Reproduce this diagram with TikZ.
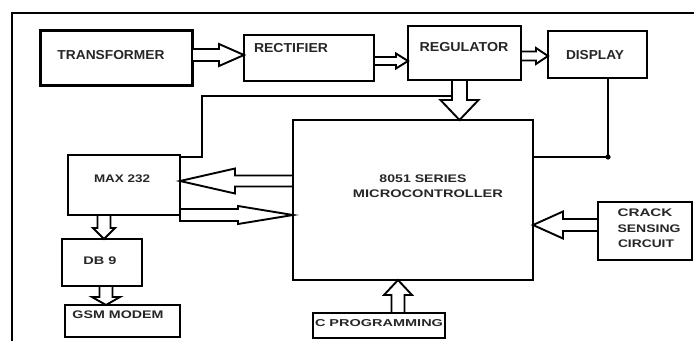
\documentclass[tikz,border=0pt]{standalone}
\usepackage{fontspec}
\setmainfont{Liberation Sans}
\usetikzlibrary{calc}
\tikzset{
  blk/.style={draw, line width=2.8pt, inner sep=0pt, outer sep=0pt},
  txt/.style={inner sep=0pt, text=black!85, font=\bfseries\fontsize{11}{13}\selectfont},
  bigtxt/.style={txt, font=\bfseries\fontsize{13}{15}\selectfont},
  wire/.style={line width=2.5pt},
  harr/.style={line width=1.9pt, line join=miter, fill=white},
  frame/.style={line width=2.8pt},
}
\newcommand\fw[2]{\resizebox{#1pt}{\height}{#2}}
% hollow arrow: start, end, shaft half width, head half width, head length
\newcommand\harrow[5]{%
  \draw[harr] let \p1=(#1), \p2=(#2),
      \n1={atan2(\y2-\y1,\x2-\x1)}, \n2={veclen(\x2-\x1,\y2-\y1)} in
    [shift={(\p1)}, rotate=\n1]
    (0,#3) -- (\n2-#5,#3) -- (\n2-#5,#4) -- (\n2,0) -- (\n2-#5,-#4)
    -- (\n2-#5,-#3) -- (0,-#3) -- cycle;
}
\begin{document}
\begin{tikzpicture}[x=1pt, y=-1pt]
\useasboundingbox (0,0) rectangle (694,341);
\draw[frame] (694,13) -| (12,341);

% blocks
\node[blk, line width=3pt, minimum width=152pt, minimum height=55pt] (transformer) at (116,57.5) {};
\node[blk, minimum width=130pt, minimum height=46pt] (rectifier) at (309,58) {};
\node[blk, minimum width=113pt, minimum height=54pt] (regulator) at (464.5,53) {};
\node[blk, minimum width=99pt, minimum height=47pt] (display) at (597.5,54.5) {};
\node[blk, minimum width=240pt, minimum height=160pt] (micro) at (413,200) {};
\node[blk, minimum width=112pt, minimum height=60pt] (max) at (124,185) {};
\node[blk, minimum width=80pt, minimum height=47pt] (db9) at (102,262.5) {};
\node[blk, minimum width=115pt, minimum height=32pt] (gsm) at (122.5,321) {};
\node[blk, minimum width=132pt, minimum height=25pt] (cprog) at (379,325.5) {};
\node[blk, minimum width=94pt, minimum height=58pt] (crack) at (645,231) {};

% texts
\node[bigtxt] (t-transformer) at (111,55) {\fw{107}{TRANSFORMER}};
\node[bigtxt] (t-rectifier) at (291,48) {\fw{74}{RECTIFIER}};
\node[bigtxt] (t-regulator) at (464,47) {\fw{89}{REGULATOR}};
\node[bigtxt] (t-display) at (595,55) {\fw{58}{DISPLAY}};
\node[txt] (t-micro1) at (423,179) {\fw{87}{8051 SERIES}};
\node[txt] (t-micro2) at (428,194) {\fw{150}{MICROCONTROLLER}};
\node[txt] (t-max) at (122,179) {\fw{56}{MAX 232}};
\node[txt] (t-db9) at (100,261) {\fw{33}{DB 9}};
\node[txt] (t-gsm) at (118,315) {\fw{91}{GSM MODEM}};
\node[txt, font=\bfseries\fontsize{10}{12}\selectfont] (t-cprog) at (379,323) {\fw{128}{C PROGRAMMING}};
\node[txt] (t-crack1) at (645,213) {\fw{55}{CRACK}};
\node[txt] (t-crack2) at (649,229) {\fw{63}{SENSING}};
\node[txt] (t-crack3) at (646,244) {\fw{56}{CIRCUIT}};

% wires
\coordinate (fc) at (202,96);
\coordinate (feed) at (452,96);
\draw[wire] ([yshift=-2pt]max.north east) -| (fc) -- (feed);
\coordinate (dj) at (608,157);
\draw[wire] (display.south -| dj) -- (dj) -- (dj -| micro.east);
\fill (dj) circle (2.6pt);

% hollow arrows
\harrow{transformer.east |- 0,55}{rectifier.west |- 0,55}{6}{11}{25}
\harrow{rectifier.east |- 0,61}{regulator.west |- 0,61}{4}{7.5}{12}
\harrow{regulator.east |- 0,56}{display.west |- 0,56}{4.5}{8}{12}
\harrow{regulator.south -| 459.5,0}{micro.north -| 459.5,0}{7.5}{19}{20}
\harrow{micro.west |- 0,181}{max.east |- 0,181}{5.5}{12.5}{55}
\harrow{max.east |- 0,215}{micro.west |- 0,215}{6}{9}{55}
\harrow{max.south -| 104,0}{db9.north -| 104,0}{6.5}{11}{11}
\harrow{db9.south -| 106,0}{gsm.north -| 106,0}{6.5}{14}{8}
\harrow{cprog.north -| 398,0}{micro.south -| 398,0}{6.5}{14}{15}
\harrow{crack.west |- 0,225}{micro.east |- 0,225}{6}{13.5}{30}
\end{tikzpicture}
\end{document}
